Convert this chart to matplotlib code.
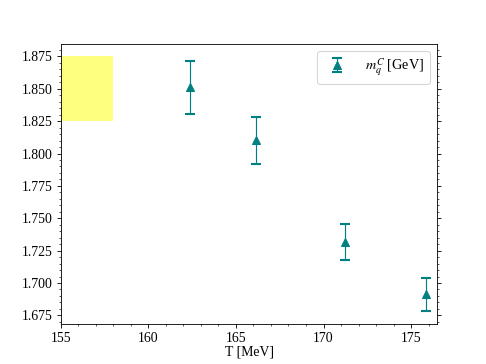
import matplotlib
matplotlib.use("Agg")
import matplotlib.pyplot as plt
from matplotlib.ticker import MultipleLocator

T = [162.4, 166.15, 171.2, 175.85]
mq = [1.8512, 1.8101, 1.7313, 1.6912]
err_lo = [0.0205, 0.0183, 0.0139, 0.0130]
err_hi = [0.0205, 0.0183, 0.0139, 0.0130]
band_T = [155.0, 158.0]
band_lo = 1.825
band_hi = 1.875

plt.rcParams['font.family'] = ['Liberation Serif', 'DejaVu Serif']
plt.rcParams['mathtext.fontset'] = 'stix'
plt.rcParams['font.size'] = 13

fig, ax = plt.subplots(figsize=(6.4, 364 / 75.9375), dpi=75.9375)

ax.fill_between(band_T, [band_lo] * 2, [band_hi] * 2, color='yellow', alpha=0.5, linewidth=0)
ax.errorbar(T, mq, yerr=[err_lo, err_hi], fmt='^', color='teal', ecolor='teal',
            markersize=7, capsize=5, capthick=2, elinewidth=1.1,
            label=r'$m_q^C$ [GeV]')

ax.set_xlim(155, 176.5)
ax.xaxis.set_major_locator(MultipleLocator(5))
ax.xaxis.set_minor_locator(MultipleLocator(1))
ax.yaxis.set_major_locator(MultipleLocator(0.025))
ax.yaxis.set_minor_locator(MultipleLocator(0.005))
ax.yaxis.set_major_formatter(matplotlib.ticker.FormatStrFormatter('%.3f'))
ax.tick_params(which='both', direction='out', right=True, top=False)
ax.tick_params(which='major', length=4)
ax.tick_params(which='minor', length=2)
ax.set_xlabel('T [MeV]', labelpad=1)
ax.legend(loc='upper right', handletextpad=1.0, prop={'size': 13.5})

fig.savefig('out.png', dpi=75.9375)
